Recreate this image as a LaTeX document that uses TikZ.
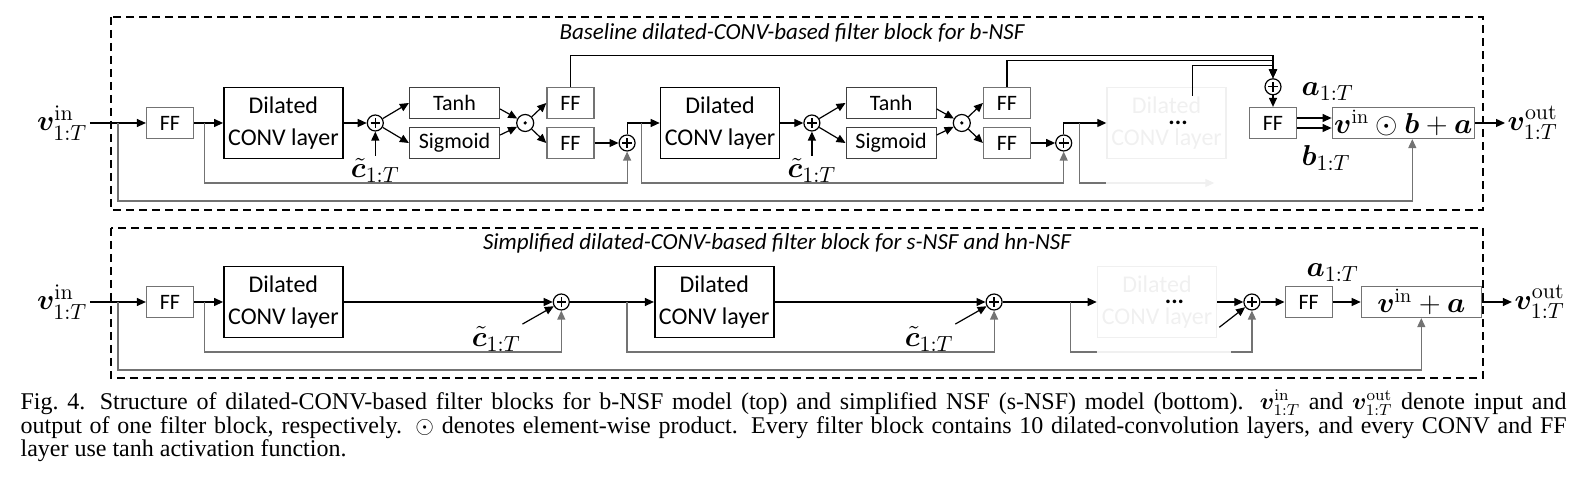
\documentclass[tikz,border=0pt]{standalone}
\usepackage[no-math]{fontspec}
\setmainfont{Liberation Serif}
\newfontfamily\calibri{Carlito}
\usepackage{amsmath}
\usepackage{bm}
\usepackage{tikz}
\usetikzlibrary{positioning,calc}
\usetikzlibrary{arrows.meta}
\definecolor{accent}{rgb}{0.45,0.45,0.45}
\definecolor{faded}{rgb}{0.94,0.94,0.94}

\begin{document}
\begin{tikzpicture}[
  x = 0.5pt,
  y = -0.5pt,
  line width = 0.6pt,
  ffbox/.style = {
    draw = accent,
    rectangle,
    minimum width = 23.5pt,
    minimum height = 15.5pt,
    inner sep = 1pt,
    font = \calibri\fontsize{11}{12}\selectfont,
  },
  dilbox/.style = {
    draw,
    rectangle,
    line width = 0.8pt,
    minimum width = 59.5pt,
    minimum height = 35.5pt,
    inner sep = 1pt,
    align = center,
    font = \calibri\fontsize{12}{16}\selectfont,
  },
  gate/.style = {
    draw = black!75,
    rectangle,
    minimum width = 45pt,
    minimum height = 15.5pt,
    inner sep = 1pt,
    font = \calibri\fontsize{11}{12}\selectfont,
  },
  outbox/.style = {
    draw = accent,
    rectangle,
    minimum height = 15.5pt,
    inner sep = 1pt,
    font = \fontsize{14}{16}\selectfont,
  },
  sumnode/.style = {
    draw,
    circle,
    minimum size = 8pt,
    inner sep = 0pt,
    path picture = {
      \draw[line width=0.7pt] ([xshift=-2.4pt]path picture bounding box.center) -- ([xshift=2.4pt]path picture bounding box.center);
      \draw[line width=0.7pt] ([yshift=-2.4pt]path picture bounding box.center) -- ([yshift=2.4pt]path picture bounding box.center);
    },
  },
  prodnode/.style = {
    draw,
    circle,
    minimum size = 8.5pt,
    inner sep = 0pt,
    path picture = {
      \fill (path picture bounding box.center) circle (0.9pt);
    },
  },
  mlabel/.style = {
    inner sep = 1pt,
    font = \fontsize{15.5}{18}\selectfont,
  },
  title/.style = {
    font = \calibri\itshape\fontsize{11.5}{14}\selectfont,
  },
  fbline/.style = {
    draw = accent,
  },
  faint/.style = {
    draw = faded,
    text = faded,
  },
  panel/.style = {
    draw,
    line width = 0.8pt,
    dash pattern = on 4pt off 2.5pt,
  },
  capnode/.style = {
    anchor = north west,
    inner sep = 0pt,
    text width = 773pt,
    align = justify,
    font = \fontsize{12}{11.25}\selectfont,
  },
  >={Triangle[length=4.5pt,width=4pt]},
]

  \useasboundingbox (0,0) rectangle (1587,485);

  \draw[panel] (111,17) rectangle (1483,210);
  \draw[panel] (111,228) rectangle (1483,378);

  \node[title] (t1) at (792,33) {Baseline dilated-CONV-based filter block for b-NSF};
  \node[title] (t2) at (777,243) {Simplified dilated-CONV-based filter block for s-NSF and hn-NSF};

  \node[ffbox] (ff1) at (170,123) {FF};
  \node[mlabel] (vin) [left=28pt of ff1] {$\bm{v}^{\mathrm{in}}_{1:T}$};
  \node[dilbox] (dil1) [right=14.5pt of ff1] {Dilated\\CONV layer};
  \node[sumnode] (pl1) [right=11.5pt of dil1] {};
  \node[mlabel] (c1) [below=12pt of pl1] {$\tilde{\bm{c}}_{1:T}$};
  \node[gate] (tanh1) [right=12.5pt of pl1, yshift=10pt] {Tanh};
  \node[gate] (sig1) [right=12.5pt of pl1, yshift=-10pt] {Sigmoid};
  \node[prodnode] (od1) [right=8pt of tanh1, yshift=-10pt] {};
  \node[ffbox] (fft1) [right=6pt of od1, yshift=10pt] {FF};
  \node[ffbox] (ffb1) [right=6pt of od1, yshift=-10pt] {FF};
  \node[sumnode] (pl2) [right=12pt of ffb1] {};

  \node[dilbox] (dil2) [right=12pt of pl2, yshift=10pt] {Dilated\\CONV layer};
  \node[sumnode] (pl3) [right=11.5pt of dil2] {};
  \node[mlabel] (c2) [below=12pt of pl3] {$\tilde{\bm{c}}_{1:T}$};
  \node[gate] (tanh2) [right=12.5pt of pl3, yshift=10pt] {Tanh};
  \node[gate] (sig2) [right=12.5pt of pl3, yshift=-10pt] {Sigmoid};
  \node[prodnode] (od2) [right=8pt of tanh2, yshift=-10pt] {};
  \node[ffbox] (fft2) [right=6pt of od2, yshift=10pt] {FF};
  \node[ffbox] (ffb2) [right=6pt of od2, yshift=-10pt] {FF};
  \node[sumnode] (pl4) [right=12pt of ffb2] {};

  \node[dilbox,faint] (dil3) [right=17pt of pl4, yshift=10pt] {Dilated\\CONV layer};
  \node[font=\calibri\bfseries\fontsize{12}{14}\selectfont] (dots3) [xshift=5.75pt] at (dil3) {...};

  \node[ffbox] (ff3) at (1273,123) {FF};
  \node[sumnode] (plf) [above=5.75pt of ff3] {};
  \node[outbox,minimum width=69.5pt] (out1) [right=17.25pt of ff3] {$\bm{v}^{\mathrm{in}}\odot\bm{b}+\bm{a}$};
  \node[mlabel] (alab1) [above right=2pt and 1pt of ff3.north east] {$\bm{a}_{1:T}$};
  \node[mlabel] (blab1) [below right=2pt and 1pt of ff3.south east] {$\bm{b}_{1:T}$};
  \node[mlabel] (vout) [right=15pt of out1] {$\bm{v}^{\mathrm{out}}_{1:T}$};

  \coordinate (br0) at ([xshift=-14pt]ff1.west);
  \coordinate (br1) at ([xshift=-9.5pt]dil1.west);
  \coordinate (br2) at ([xshift=-9pt]dil2.west);
  \coordinate (br3) at ([xshift=-13.5pt]dil3.west);
  \coordinate (fd3) at ([yshift=-30pt]br3);
  \coordinate (sk3) at ([xshift=12.75pt,yshift=-4.5pt]dil3.north);

  \path[->] (vin) edge (ff1);
  \path[->] (ff1) edge (dil1);
  \path[->] (dil1) edge (pl1);
  \path[->] (c1) edge (pl1);
  \path[->] (pl1) edge (tanh1.west);
  \path[->] (pl1) edge (sig1.west);
  \path[->] ([yshift=-3pt]tanh1.east) edge (od1);
  \path[->] ([yshift=4pt]sig1.east) edge (od1);
  \path[->] (od1) edge (fft1.west);
  \path[->] (od1) edge (ffb1.west);
  \path[->] (ffb1) edge (pl2);
  \draw[->] (pl2) |- (dil2);

  \path[->] (dil2) edge (pl3);
  \path[->] (c2) edge (pl3);
  \path[->] (pl3) edge (tanh2.west);
  \path[->] (pl3) edge (sig2.west);
  \path[->] ([yshift=-3pt]tanh2.east) edge (od2);
  \path[->] ([yshift=4pt]sig2.east) edge (od2);
  \path[->] (od2) edge (fft2.west);
  \path[->] (od2) edge (ffb2.west);
  \path[->] (ffb2) edge (pl4);
  \draw[->] (pl4) |- (dil3);

  \draw[->] (fft1.north) -- ++(0,15.5pt) -| (plf);
  \draw[->] (fft2.north) -- ++(0,13pt) -| (plf);
  \draw[->] (sk3) -- ++(0,15pt) -| (plf);
  \path[->] (plf) edge (ff3);
  \path[->] ([yshift=2.5pt]ff3.east) edge ([yshift=2.5pt]out1.west);
  \path[->] ([yshift=-2.5pt]ff3.east) edge ([yshift=-2.5pt]out1.west);
  \path[->] (out1) edge (vout);

  \draw[fbline,->] (br0) -- ++(0,-39pt) -| ([xshift=4.5pt]out1.south);
  \draw[fbline,->] (br1) -- ++(0,-30pt) -| (pl2);
  \draw[fbline,->] (br2) -- ++(0,-30pt) -| (pl4);
  \draw[fbline] (br3) -- (fd3) -- (fd3 -| dil3.west);
  \draw[faint,->] (fd3 -| dil3.west) -- ++(54pt,0);

  \node[ffbox] (ffB1) at (170,302) {FF};
  \node[mlabel] (vinB) [left=28pt of ffB1] {$\bm{v}^{\mathrm{in}}_{1:T}$};
  \node[dilbox] (dilB1) [right=14.5pt of ffB1] {Dilated\\CONV layer};
  \node[sumnode] (plB1) [right=104.5pt of dilB1] {};
  \node[mlabel] (cB1) [below left=8pt and 16pt of plB1] {$\tilde{\bm{c}}_{1:T}$};
  \node[dilbox] (dilB2) [right=42pt of plB1] {Dilated\\CONV layer};
  \node[sumnode] (plB2) [right=105.5pt of dilB2] {};
  \node[mlabel] (cB2) [below left=8pt and 16pt of plB2] {$\tilde{\bm{c}}_{1:T}$};
  \node[dilbox,faint] (dilB3) [right=47pt of plB2] {Dilated\\CONV layer};
  \node[font=\calibri\bfseries\fontsize{12}{14}\selectfont] (dotsB3) [xshift=8.75pt] at (dilB3) {...};
  \node[sumnode] (plB3) [right=13pt of dilB3] {};
  \node[ffbox] (ffB4) [right=12pt of plB3] {FF};
  \node[outbox,minimum width=60pt] (outB) [right=14pt of ffB4] {$\bm{v}^{\mathrm{in}}+\bm{a}$};
  \node[mlabel] (alabB) [above=1pt of ffB4.north east] {$\bm{a}_{1:T}$};
  \node[mlabel] (voutB) [right=15pt of outB] {$\bm{v}^{\mathrm{out}}_{1:T}$};

  \coordinate (brB0) at ([xshift=-14pt]ffB1.west);
  \coordinate (brB1) at ([xshift=-9.5pt]dilB1.west);
  \coordinate (brB2) at ([xshift=-13.5pt]dilB2.west);
  \coordinate (brB3) at ([xshift=-13pt]dilB3.west);
  \coordinate (fdB3) at ([yshift=-25pt]brB3);
  \coordinate (gB3) at ($(fdB3 -| dilB3.east)+(7pt,0)$);

  \path[->] (vinB) edge (ffB1);
  \path[->] (ffB1) edge (dilB1);
  \path[->] (dilB1) edge (plB1);
  \path[->] (cB1) edge (plB1);
  \path[->] (plB1) edge (dilB2);
  \path[->] (dilB2) edge (plB2);
  \path[->] (cB2) edge (plB2);
  \path[->] (plB2) edge (dilB3);
  \path[->] (dilB3) edge (plB3);
  \path[->] ([xshift=1pt,yshift=5.5pt]dilB3.south east) edge (plB3);
  \path[->] (plB3) edge (ffB4);
  \path[->] (ffB4) edge (outB);
  \path[->] (outB) edge (voutB);

  \draw[fbline,->] (brB0) -- ++(0,-34pt) -| (outB);
  \draw[fbline,->] (brB1) -- ++(0,-25pt) -| (plB1);
  \draw[fbline,->] (brB2) -- ++(0,-25pt) -| (plB2);
  \draw[fbline] (brB3) -- (fdB3) -- (fdB3 -| dilB3.west);
  \draw[faint] (fdB3 -| dilB3.west) -- (gB3);
  \draw[fbline,->] (gB3) -| (plB3);

  \node[capnode] (cap) at (20,389) {Fig.~4.\hspace{0.6em}Structure of dilated-CONV-based filter blocks for b-NSF model (top) and simplified NSF (s-NSF) model (bottom). $\bm{v}^{\mathrm{in}}_{1:T}$ and $\bm{v}^{\mathrm{out}}_{1:T}$ denote input and\linebreak output of one filter block, respectively. $\odot$ denotes element-wise product. Every filter block contains 10 dilated-convolution layers, and every CONV and FF\linebreak layer use tanh activation function.};

\end{tikzpicture}
\end{document}
